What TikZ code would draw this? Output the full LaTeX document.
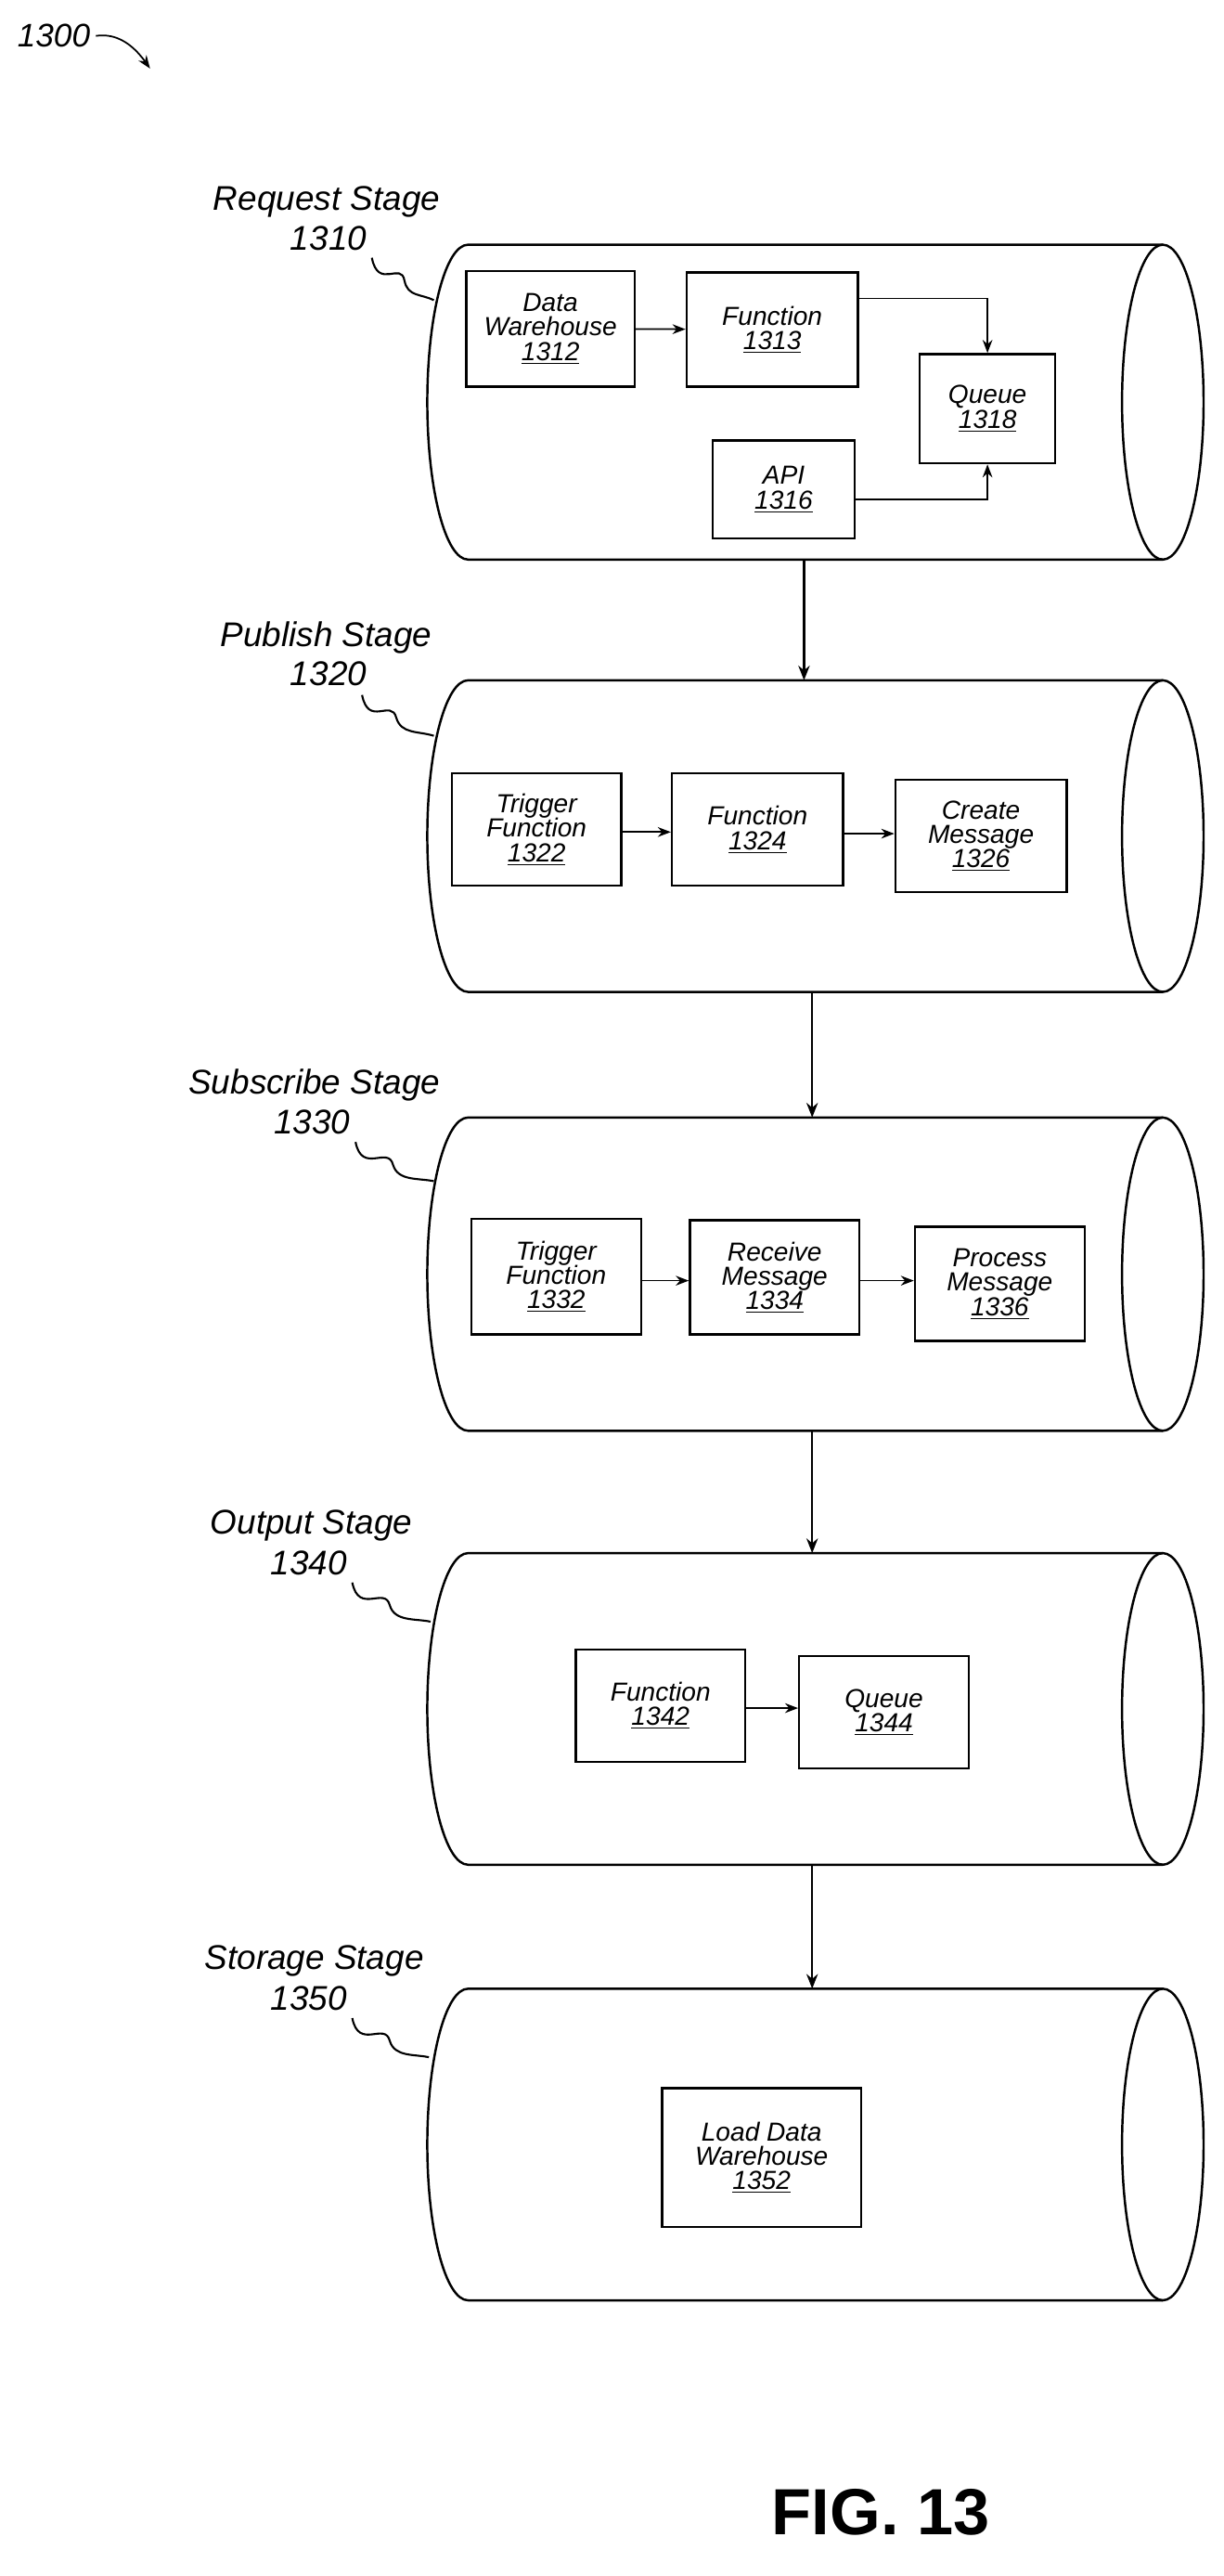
\documentclass[tikz,border=0pt]{standalone}
\usepackage{fontspec}
\setmainfont{Liberation Sans}
\usetikzlibrary{arrows.meta}

\newcommand{\ul}[1]{\underline{#1}}

\tikzset{
  box/.style={draw, line width=1.3pt, align=center, inner sep=1pt,
    font=\fontsize{16}{15}\selectfont\itshape},
  stagelbl/.style={anchor=east, align=right, inner sep=0pt,
    font=\fontsize{21}{21}\selectfont\itshape},
  flow/.style={-{Stealth[length=9pt,width=7pt]}, line width=1.3pt},
  link/.style={-{Stealth[length=8pt,width=6pt]}, line width=1pt},
  squig/.style={line width=1.2pt}
}

% horizontal cylinder: #1 top y, #2 bottom y
\newcommand{\drum}[2]{%
  \draw[line width=1.4pt] (713,#1) -- (287,#1)
    arc[start angle=270, end angle=90, x radius=25, y radius={(#2-#1)/2}] -- (713,#2);
  \draw[line width=1.4pt] (713,{(#1+#2)/2}) ellipse[x radius=25, y radius={(#2-#1)/2}];
}

\begin{document}
\begin{tikzpicture}[x=1pt, y=-1pt]
  \useasboundingbox (0,0) rectangle (750,1579);

  % --- figure number ---
  \node[font=\fontsize{20}{20}\selectfont\itshape] (fig) at (33,22) {1300};
  \coordinate (figtip) at (92,42);
  \draw[link] (fig.east) .. controls (72,20) and (82,28) .. (figtip);

  % --- cylinders ---
  \drum{150}{343}
  \drum{417}{608}
  \drum{685}{877}
  \drum{952}{1143}
  \drum{1219}{1410}

  % --- stage labels ---
  \node[stagelbl] (s1) at (270,124) {Request Stage};
  \node[stagelbl] (n1) at (225,146) {1310};
  \node[stagelbl] (s2) at (265,391) {Publish Stage};
  \node[stagelbl] (n2) at (225,413) {1320};
  \node[stagelbl] (s3) at (270,665) {Subscribe Stage};
  \node[stagelbl] (n3) at (215,688) {1330};
  \node[stagelbl] (s4) at (253,935) {Output Stage};
  \node[stagelbl] (n4) at (213,958) {1340};
  \node[stagelbl] (s5) at (260,1202) {Storage Stage};
  \node[stagelbl] (n5) at (213,1225) {1350};

  \draw[squig] (228,158) .. controls (232,178) and (246,160) .. (248,172) .. controls (250,182) and (258,180) .. (266,184);
  \draw[squig] (222,426) .. controls (226,446) and (240,428) .. (243,440) .. controls (246,450) and (256,448) .. (266,451);
  \draw[squig] (218,700) .. controls (222,720) and (238,702) .. (241,714) .. controls (244,724) and (256,722) .. (266,724);
  \draw[squig] (216,970) .. controls (220,990) and (236,972) .. (239,984) .. controls (242,994) and (254,992) .. (264,994);
  \draw[squig] (216,1237) .. controls (220,1257) and (236,1239) .. (239,1251) .. controls (242,1261) and (254,1259) .. (263,1261);

  % --- request stage ---
  \node[box, minimum width=103pt, minimum height=71pt] (dw) at (337.5,201.5) {Data\\Warehouse\\\ul{1312}};
  \node[box, minimum width=105pt, minimum height=70pt] (fn1) at (473.5,202) {Function\\\ul{1313}};
  \node[box, minimum width=83pt, minimum height=67pt] (q1) at (605.5,250.5) {Queue\\\ul{1318}};
  \node[box, minimum width=87pt, minimum height=60pt] (api) at (480.5,300) {API\\\ul{1316}};
  \draw[link] (dw) -- (fn1);
  \draw[link] (fn1.east |- 0,183) -| (q1.north);
  \draw[link] (api.east |- 0,306) -| (q1.south);

  % --- publish stage ---
  \node[box, minimum width=104pt, minimum height=69pt] (tf2) at (329,508.5) {Trigger\\Function\\\ul{1322}};
  \node[box, minimum width=105pt, minimum height=69pt] (fn2) at (464.5,508.5) {Function\\\ul{1324}};
  \node[box, minimum width=105pt, minimum height=69pt] (cm) at (601.5,512.5) {Create\\Message\\\ul{1326}};
  \draw[link] (tf2.east |- 0,510) -- (fn2.west |- 0,510);
  \draw[link] (fn2.east |- 0,511) -- (cm.west |- 0,511);

  % --- subscribe stage ---
  \node[box, minimum width=104pt, minimum height=71pt] (tf3) at (341,782.5) {Trigger\\Function\\\ul{1332}};
  \node[box, minimum width=104pt, minimum height=70pt] (rm) at (475,783) {Receive\\Message\\\ul{1334}};
  \node[box, minimum width=104pt, minimum height=70pt] (pm) at (613,787) {Process\\Message\\\ul{1336}};
  \draw[link] (tf3.east |- 0,785) -- (rm.west |- 0,785);
  \draw[link] (rm.east |- 0,785) -- (pm.west |- 0,785);

  % --- output stage ---
  \node[box, minimum width=104pt, minimum height=69pt] (fn4) at (405,1045.5) {Function\\\ul{1342}};
  \node[box, minimum width=104pt, minimum height=69pt] (q4) at (542,1049.5) {Queue\\\ul{1344}};
  \draw[link] (fn4.east |- 0,1047) -- (q4.west |- 0,1047);

  % --- storage stage ---
  \node[box, minimum width=122pt, minimum height=85pt] (ldw) at (467,1322.5) {Load Data\\Warehouse\\\ul{1352}};

  % --- stage to stage ---
  \coordinate (c1b) at (493,343); \coordinate (c2t) at (493,417);
  \coordinate (c2b) at (498,608); \coordinate (c3t) at (498,685);
  \coordinate (c3b) at (498,877); \coordinate (c4t) at (498,952);
  \coordinate (c4b) at (498,1143); \coordinate (c5t) at (498,1219);
  \draw[flow] (c1b) -- (c2t);
  \draw[flow] (c2b) -- (c3t);
  \draw[flow] (c3b) -- (c4t);
  \draw[flow] (c4b) -- (c5t);

  \node[font=\fontsize{40}{40}\selectfont\bfseries] (title) at (540,1540) {FIG. 13};
\end{tikzpicture}
\end{document}
